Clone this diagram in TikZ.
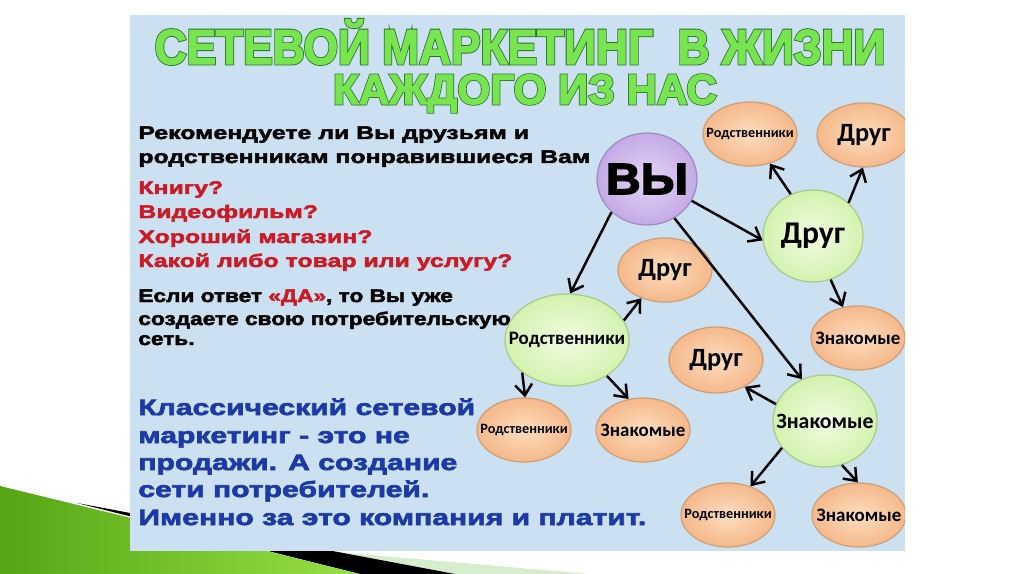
\documentclass[tikz,border=0pt]{standalone}
\usepackage{fontspec}
\usepackage{graphicx}
\usetikzlibrary{arrows.meta,shapes.geometric}
\setmainfont{Liberation Sans}
\newfontfamily\bodyfont{Liberation Sans}[FakeBold=2.5,FakeStretch=1.36]
\newfontfamily\bodyfontB{Liberation Sans}[FakeBold=2.5,FakeStretch=1.24]
\newfontfamily\bluefont{Liberation Sans}[FakeBold=3,FakeStretch=1.36]
\newfontfamily\vyfont{Liberation Sans}[FakeBold=3,FakeStretch=1.1]
\newfontfamily\titledark{Liberation Sans}[FakeBold=6]
\newfontfamily\titlegreen{Liberation Sans}[FakeBold=2.5]
\newfontfamily\labelfont{Carlito}
\newcommand\ovtext[1]{\makebox[0pt]{#1}}
\definecolor{panelblue}{RGB}{203,224,240}
\definecolor{lgreen}{RGB}{215,238,205}
\definecolor{dgreen}{RGB}{85,165,20}
\definecolor{bgreen}{RGB}{150,225,70}
\definecolor{tdark}{RGB}{40,115,40}
\definecolor{tgreen}{RGB}{120,228,80}
\definecolor{oin}{RGB}{252,222,192}
\definecolor{oout}{RGB}{245,184,138}
\definecolor{obord}{RGB}{205,160,120}
\definecolor{gin}{RGB}{240,252,225}
\definecolor{gout}{RGB}{212,242,175}
\definecolor{gbord}{RGB}{165,205,135}
\definecolor{pin}{RGB}{228,212,246}
\definecolor{pout}{RGB}{196,170,230}
\definecolor{pbord}{RGB}{160,140,195}
\definecolor{redtxt}{RGB}{205,25,35}
\definecolor{bluetxt}{RGB}{28,58,165}
\begin{document}
\begin{tikzpicture}[x=0.02cm,y=-0.02cm,
  oval/.style={ellipse, inner sep=0pt, line width=0.7pt, text=black},
  orange/.style={oval, draw=obord, inner color=oin, outer color=oout,
    minimum width=1.88cm, minimum height=1.28cm},
  greenc/.style={oval, draw=gbord, inner color=gin, outer color=gout},
  purplec/.style={oval, draw=pbord, inner color=pin, outer color=pout},
  smalllab/.style={font=\labelfont\bfseries\fontsize{8.1}{10}\selectfont},
  midlab/.style={font=\labelfont\bfseries\fontsize{10.8}{13}\selectfont},
  biglab/.style={font=\labelfont\bfseries\fontsize{15}{17}\selectfont},
  arr/.style={draw, line width=1.4pt, -{Straight Barb[length=2.2mm,width=3.4mm]}},
  blk/.style={anchor=base west, inner sep=0pt, text=black,
    font=\bodyfont\bfseries\fontsize{10.4}{12}\selectfont},
  blkb/.style={anchor=base west, inner sep=0pt, text=black,
    font=\bodyfontB\bfseries\fontsize{10.4}{12}\selectfont},
  red/.style={blk, text=redtxt},
  blue/.style={anchor=base west, inner sep=0pt, text=bluetxt,
    font=\bluefont\bfseries\fontsize{12.6}{14}\selectfont},
  tline1/.style={anchor=base, inner sep=0pt, font=\bfseries\fontsize{28}{30}\selectfont},
  tline2/.style={anchor=base, inner sep=0pt, font=\bfseries\fontsize{24}{26}\selectfont}
]
\useasboundingbox (0,0) rectangle (1024,574);
\fill[white] (0,0) rectangle (1024,574);
% slide decoration
\fill[lgreen] (0,523) -- (590,574) -- (0,574) -- cycle;
\fill[black] (77,503) -- (455,574) -- (360,574) -- cycle;
\shade[left color=dgreen, right color=bgreen] (0,486) -- (360,574) -- (0,574) -- cycle;
% picture panel
\fill[panelblue] (130,15) rectangle (905,551);
% title
\node[tline1, text=tdark] (title1o) at (520,64) {\titledark\scalebox{0.9}[1]{СЕТЕВОЙ МАРКЕТИНГ\ \ В ЖИЗНИ}};
\node[tline1, text=tgreen] (title1) at (520,64) {\titlegreen\scalebox{0.9}[1]{СЕТЕВОЙ МАРКЕТИНГ\ \ В ЖИЗНИ}};
\node[tline2, text=tdark] (title2o) at (525,104) {\titledark КАЖДОГО ИЗ НАС};
\node[tline2, text=tgreen] (title2) at (525,104) {\titlegreen КАЖДОГО ИЗ НАС};
% left texts
\node[blk] (q1) at (138,139) {Рекомендуете ли Вы друзьям и};
\node[blk] (q2) at (138,163) {родственникам понравившиеся Вам};
\node[red] (r1) at (138,194) {Книгу?};
\node[red] (r2) at (138,218) {Видеофильм?};
\node[red] (r3) at (138,243) {Хороший магазин?};
\node[red] (r4) at (138,267) {Какой либо товар или услугу?};
\node[blkb] (a1) at (138,302) {Если ответ \textcolor{redtxt}{«ДА»}, то Вы уже};
\node[blkb] (a2) at (138,325) {создаете свою потребительскую};
\node[blkb] (a3) at (138,345) {сеть.};
\node[blue] (b1) at (138,415) {Классический сетевой};
\node[blue] (b2) at (138,443) {маркетинг - это не};
\node[blue] (b3) at (138,470) {продажи. А создание};
\node[blue] (b4) at (138,497) {сети потребителей.};
\node[blue] (b5) at (138,525) {Именно за это компания и платит.};
% network
\begin{scope}
\clip (130,15) rectangle (905,551);
\node[purplec, minimum width=2.0cm, minimum height=1.84cm,
  font=\vyfont\bfseries\fontsize{25}{27}\selectfont] (vy) at (647,179) {\ovtext{ВЫ}};
\node[greenc, minimum width=2.0cm, minimum height=1.84cm,
  font=\labelfont\bfseries\fontsize{18}{20}\selectfont] (drugG) at (813,236) {\ovtext{Друг}};
\node[orange, smalllab] (rodTop) at (750,134) {\ovtext{Родственники}};
\node[orange, biglab] (drugTR) at (864,135) {\ovtext{Друг}};
\node[orange, midlab] (znakR) at (858,338) {\ovtext{Знакомые}};
\node[greenc, minimum width=2.48cm, minimum height=1.84cm, midlab] (rodG) at (567,340) {\ovtext{Родственники}};
\node[orange, biglab] (drugM) at (665,270) {\ovtext{Друг}};
\node[orange, biglab, minimum height=1.32cm] (drugC) at (716,360) {\ovtext{Друг}};
\node[greenc, minimum width=2.08cm, minimum height=1.84cm,
  font=\labelfont\bfseries\fontsize{12.4}{14}\selectfont] (znakG) at (825,421) {\ovtext{Знакомые}};
\node[orange, smalllab] (rodBL) at (524,430) {\ovtext{Родственники}};
\node[orange, midlab] (znakBL) at (643,430) {\ovtext{Знакомые}};
\node[orange, smalllab] (rodB) at (728,515) {\ovtext{Родственники}};
\node[orange, midlab] (znakB) at (859,515) {\ovtext{Знакомые}};
\end{scope}
% arrows
\draw[arr] (vy.-26) -- (drugG.185);
\draw[arr] (vy.223) -- (rodG.86);
\draw[arr] (vy.305) -- (znakG.119);
\draw[arr] (drugG.118) -- (rodTop.304);
\draw[arr] (drugG.43) -- (drugTR.268);
\draw[arr] (drugG.292) -- (znakR.116);
\draw[arr] (rodG.19) -- (drugM.230);
\draw[arr] (rodG.216) -- (rodBL.88);
\draw[arr] (rodG.318) -- (znakBL.115);
\draw[arr] (znakG.161) -- (drugC.317);
\draw[arr] (znakG.212) -- (rodB.52);
\draw[arr] (znakG.291) -- (znakB.92);
\end{tikzpicture}
\end{document}
